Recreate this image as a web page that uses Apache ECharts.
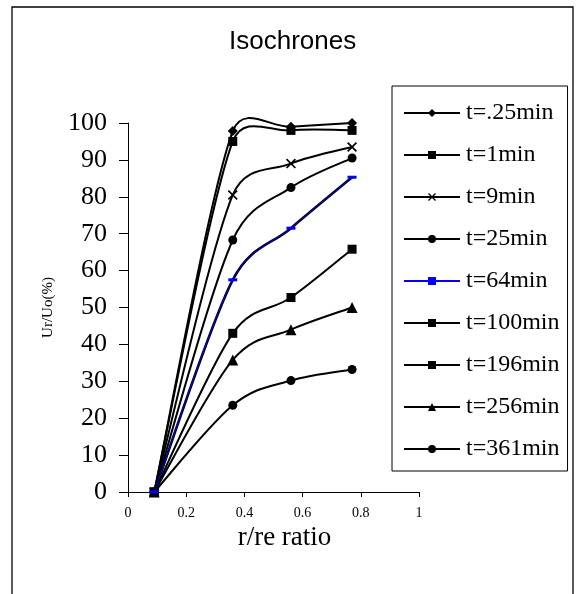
<!DOCTYPE html>
<html>
<head>
<meta charset="utf-8">
<script src="https://cdn.jsdelivr.net/npm/echarts@6/dist/echarts.min.js"></script>
<style>
  html, body { margin: 0; padding: 0; background: #fff; }
  #chart { width: 577px; height: 594px; }
</style>
</head>
<body>
<div id="chart"></div>
<script>
// data
const ratios = [0.09, 0.36, 0.56, 0.77]
const seriesNames = ['t=.25min', 't=1min', 't=9min', 't=25min', 't=64min', 't=100min', 't=196min', 't=256min', 't=361min']
const t025 = [0, 97.8, 99.0, 100.0]
const t1 = [0, 95.0, 98.0, 98.0]
const t9 = [0, 80.5, 89.0, 93.5]
const t25 = [0, 68.3, 82.5, 90.5]
const t64 = [0, 57.5, 71.5, 85.3]
const t100 = [0, 57.5, 71.5, 85.3]
const t196 = [0, 43.0, 52.7, 65.8]
const t256 = [0, 35.8, 44.0, 50.0]
const t361 = [0, 23.5, 30.2, 33.2]
const xTicks = [0, 0.2, 0.4, 0.6, 0.8, 1]

const serif = '"Liberation Serif", "DejaVu Serif", serif'
const cross = 'path://M0,1.2L1.2,0L5,3.8L8.8,0L10,1.2L6.2,5L10,8.8L8.8,10L5,6.2L1.2,10L0,8.8L3.8,5Z'

const pairs = ys => ys.map((y, i) => [ratios[i], y])

// name, values, symbol, size, colour, line width
const defs = [
    [seriesNames[0], t025, 'diamond', 10, '#000', 2],
    [seriesNames[1], t1, 'rect', 9, '#000', 2],
    [seriesNames[2], t9, cross, 10, '#000', 2],
    [seriesNames[3], t25, 'circle', 9, '#000', 2],
    [seriesNames[4], t64, 'rect', [9, 3], '#0000ff', 1],
    [seriesNames[5], t100, 'rect', [5, 2], '#000', 2.6],
    [seriesNames[6], t196, 'rect', 9, '#000', 2],
    [seriesNames[7], t256, 'triangle', 11, '#000', 2],
    [seriesNames[8], t361, 'circle', 9, '#000', 2],
]

// Excel style smoothed curve through the pixel points
function smoothPath(p) {
    const dist = (a, b) => Math.hypot(b[0] - a[0], b[1] - a[1])
    let d = 'M' + p[0][0] + ',' + p[0][1]
    for (let i = 0; i < p.length - 1; i++) {
        const p0 = p[Math.max(i - 1, 0)]
        const p1 = p[i]
        const p2 = p[i + 1]
        const p3 = p[Math.min(i + 2, p.length - 1)]
        const d12 = dist(p1, p2)
        const d02 = dist(p0, p2)
        const d13 = dist(p1, p3)
        let f0 = 1 / 6
        let f3 = 1 / 6
        if (d02 / 6 >= d12 / 2) f0 = d12 / d02 / 2
        if (d13 / 6 >= d12 / 2) f3 = d12 / d13 / 2
        const c1 = [p1[0] + (p2[0] - p0[0]) * f0, p1[1] + (p2[1] - p0[1]) * f0]
        const c2 = [p2[0] - (p3[0] - p1[0]) * f3, p2[1] - (p3[1] - p1[1]) * f3]
        d += 'C' + c1[0] + ',' + c1[1] + ',' + c2[0] + ',' + c2[1] + ',' + p2[0] + ',' + p2[1]
    }
    return d
}

const chart = echarts.init(document.getElementById('chart'))

const curveSeries = defs.map(([name, ys, symbol, size, color, width], k) => ({
    name: name + ' curve',
    type: 'custom',
    coordinateSystem: 'cartesian2d',
    data: pairs(ys),
    z: k === 4 ? 4 : 2,
    silent: true,
    renderItem: function (params, api) {
        if (params.dataIndexInside !== 0) return null
        const pts = []
        for (let j = 0; j < params.dataInsideLength; j++) {
            pts.push(api.coord([api.value(0, j), api.value(1, j)]))
        }
        return {
            type: 'path',
            shape: { pathData: smoothPath(pts) },
            style: { fill: 'none', stroke: color, lineWidth: width },
        }
    },
}))

const markerSeries = defs.map(([name, ys, symbol, size, color, width], k) => ({
    name: name,
    type: 'line',
    data: pairs(ys),
    symbol: symbol,
    symbolSize: size,
    showSymbol: true,
    z: k === 4 ? 5 : 3,
    itemStyle: { color: color, borderWidth: 0 },
    lineStyle: { color: color, width: 2, opacity: 0 },
    emphasis: { disabled: true },
}))

chart.setOption({
    animation: false,
    title: {
        text: 'Isochrones',
        left: 229,
        top: 29,
        padding: 0,
        textStyle: { fontFamily: '"Liberation Sans", Arial, sans-serif', fontSize: 26, fontWeight: 'normal', color: '#000' },
    },
    graphic: [
        {
            type: 'rect',
            shape: { x: 12, y: 7, width: 561, height: 600 },
            style: { fill: 'none', stroke: '#000', lineWidth: 1.3 },
            silent: true,
        },
    ],
    legend: {
        orient: 'vertical',
        left: 392,
        top: 86,
        padding: [15, 8, 10, 11],
        itemWidth: 56,
        itemHeight: 10,
        itemGap: 18,
        borderColor: '#000',
        borderWidth: 1,
        lineStyle: { opacity: 1, width: 2 },
        textStyle: { fontFamily: serif, fontSize: 24, lineHeight: 24, color: '#000', padding: [0, 0, 0, 1] },
        data: seriesNames,
    },
    grid: { left: 128, right: 158, top: 123, bottom: 102, containLabel: false },
    xAxis: {
        type: 'value',
        min: 0,
        max: 1,
        interval: 0.2,
        name: 'r/re ratio',
        nameLocation: 'middle',
        nameGap: 31,
        nameTextStyle: { fontFamily: serif, fontSize: 27, color: '#000', padding: [0, 0, 0, 22] },
        axisLine: { show: true, lineStyle: { color: '#000', width: 1 } },
        axisTick: { show: true, length: 5, lineStyle: { color: '#000' } },
        axisLabel: {
            fontFamily: serif, fontSize: 14, color: '#000', margin: 14,
            formatter: v => xTicks.indexOf(Math.round(v * 10) / 10) >= 0 ? String(Math.round(v * 10) / 10) : '',
        },
        splitLine: { show: false },
    },
    yAxis: {
        type: 'value',
        min: 0,
        max: 100,
        interval: 10,
        name: 'Ur/Uo(%)',
        nameLocation: 'middle',
        nameRotate: 90,
        nameGap: 72,
        nameTextStyle: { fontFamily: serif, fontSize: 15, color: '#000' },
        axisLine: { show: true, lineStyle: { color: '#000', width: 1 } },
        axisTick: { show: true, length: 9, lineStyle: { color: '#000' } },
        axisLabel: { fontFamily: serif, fontSize: 26, color: '#000', margin: 21 },
        splitLine: { show: false },
    },
    series: curveSeries.concat(markerSeries),
})
</script>
</body>
</html>
